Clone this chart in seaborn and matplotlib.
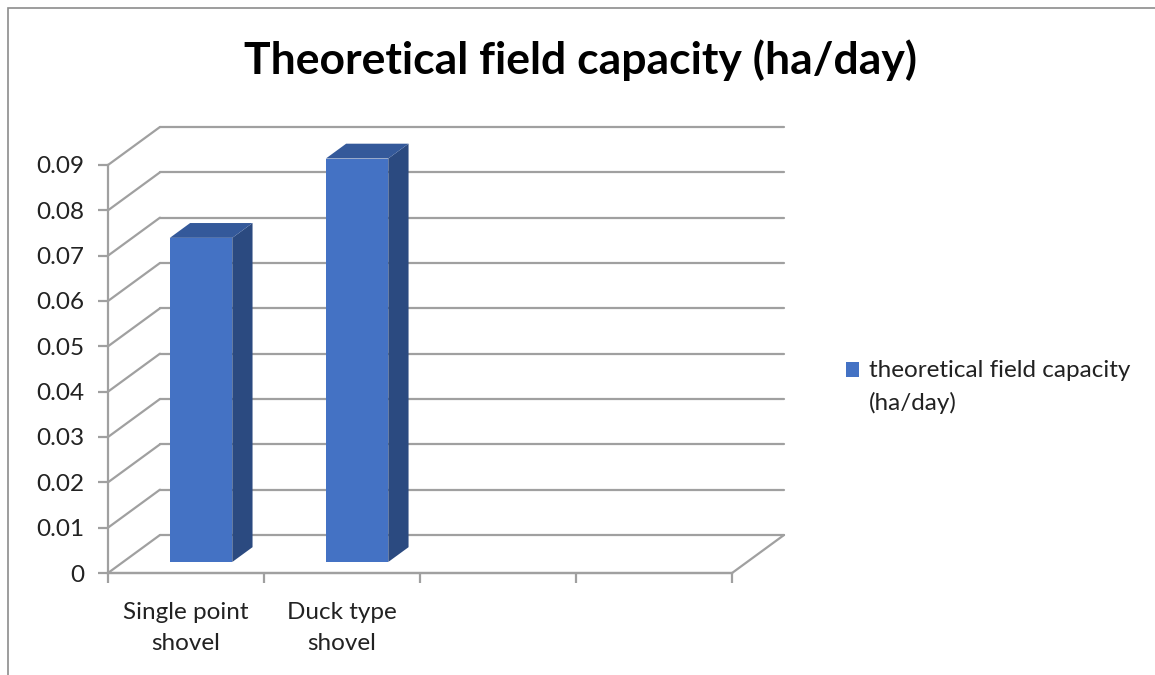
import matplotlib
matplotlib.use("Agg")
import matplotlib.pyplot as plt
import seaborn as sns
import pandas as pd
from matplotlib.patches import Polygon, Rectangle

# data
categories = ["Single point\nshovel", "Duck type\nshovel"]
capacity = [0.0715, 0.089]
y_ticks = [0, 0.01, 0.02, 0.03, 0.04, 0.05, 0.06, 0.07, 0.08, 0.09]
y_tick_labels = ["0", "0.01", "0.02", "0.03", "0.04", "0.05", "0.06", "0.07", "0.08", "0.09"]
series_name = "theoretical field capacity\n(ha/day)"
title = "Theoretical field capacity (ha/day)"
n_slots = 4  # excel left two empty category slots

# look
FRONT = "#4472C4"
SIDE = "#2B4A80"
TOP = "#34599A"
GRID = "#A0A0A0"
DX = 0.333      # depth offset of the back wall, x data units
DY = 0.00838    # depth offset of the back wall, y data units
F0, F1 = 0.29, 0.68  # front / back depth of the bars
FS = 17.5

sns.set_theme(style="white")
plt.rcParams['font.family'] = ['Lato', 'DejaVu Sans']

fig = plt.figure(figsize=(11.55, 6.75), dpi=100)
ax = fig.add_axes([108 / 1155, (675 - 573) / 675, (784 - 108) / 1155, (573 - 127) / 675])

df = pd.DataFrame({"tool": categories, "capacity": capacity})
sns.barplot(data=df, x="tool", y="capacity", color=FRONT, width=0.4,
            saturation=1, ax=ax, label=series_name, zorder=5)
if ax.get_legend() is not None:
    ax.get_legend().remove()

x_left, x_right = -0.5, n_slots - 0.5
ax.set_xlim(x_left, x_right + DX)
ax.set_ylim(0, y_ticks[-1] + DY)

# back wall and side wall gridlines
for v in y_ticks:
    ax.plot([x_left + DX, x_right + DX], [v + DY, v + DY], color=GRID, lw=1.6, clip_on=False, zorder=1)
    ax.plot([x_left, x_left + DX], [v, v + DY], color=GRID, lw=1.6, clip_on=False, zorder=1)
# floor front edge + right edge
ax.plot([x_left, x_right], [0, 0], color=GRID, lw=1.6, clip_on=False, zorder=1)
ax.plot([x_right, x_right + DX], [0, DY], color=GRID, lw=1.6, clip_on=False, zorder=1)

# turn flat bars into boxes
for p in list(ax.patches):
    x0, w, h = p.get_x(), p.get_width(), p.get_height()
    fx, fy = x0 + F0 * DX, F0 * DY
    bx, by = (F1 - F0) * DX, (F1 - F0) * DY
    p.set_x(fx)
    p.set_y(fy)
    p.set_edgecolor("none")
    side = Polygon([(fx + w, fy), (fx + w + bx, fy + by), (fx + w + bx, fy + h + by), (fx + w, fy + h)],
                   closed=True, facecolor=SIDE, edgecolor="none", zorder=5)
    top = Polygon([(fx, fy + h), (fx + bx, fy + h + by), (fx + w + bx, fy + h + by), (fx + w, fy + h)],
                  closed=True, facecolor=TOP, edgecolor="none", zorder=5)
    ax.add_patch(side)
    ax.add_patch(top)

# axes lines
for s in ["top", "right"]:
    ax.spines[s].set_visible(False)
ax.spines["left"].set_bounds(0, y_ticks[-1])
ax.spines["bottom"].set_bounds(x_left, x_right)
ax.spines["left"].set_color(GRID)
ax.spines["bottom"].set_color(GRID)
ax.spines["left"].set_linewidth(1.6)
ax.spines["bottom"].set_linewidth(1.6)

ax.set_yticks(y_ticks)
ax.set_yticklabels(y_tick_labels, fontsize=FS, color="#222222")
ax.tick_params(axis="y", direction="out", length=7, width=1.6, color=GRID, pad=10, left=True)

ax.set_xticks([x_left + i for i in range(n_slots + 1)])
ax.set_xticklabels([""] * (n_slots + 1))
ax.tick_params(axis="x", which="major", direction="out", length=7, width=1.6, color=GRID, bottom=True)
ax.set_xticks(range(len(categories)), minor=True)
ax.set_xticklabels(categories, minor=True, fontsize=FS, color="#222222", linespacing=1.55)
ax.tick_params(axis="x", which="minor", length=0, pad=21)
ax.set_xlabel("")
ax.set_ylabel("")

# legend
handles, labels = ax.get_legend_handles_labels()
leg = fig.legend(handles, labels, loc="upper left", bbox_to_anchor=(824 / 1155, 1 - 338 / 675),
                 frameon=False, fontsize=FS, handlelength=0.55, handleheight=0.55,
                 handletextpad=0.4, labelcolor="#222222")
for t in leg.get_texts():
    t.set_linespacing(1.6)
# excel puts the marker next to the first line of a wrapped label
for hd in leg.legend_handles:
    hd.set_y(hd.get_y() + 12.5)

fig.text(581 / 1155, 1 - 60 / 675, title, ha="center", va="center",
         fontsize=32, fontweight="bold", color="black")

# outer chart border (cut off at right / bottom as in the source)
fig.add_artist(Rectangle((8 / 1155, -0.1), 1.2, 1.1 - 8 / 675, transform=fig.transFigure,
                         fill=False, edgecolor="#8C8C8C", lw=1.2))

fig.savefig("out.png", dpi=100)
